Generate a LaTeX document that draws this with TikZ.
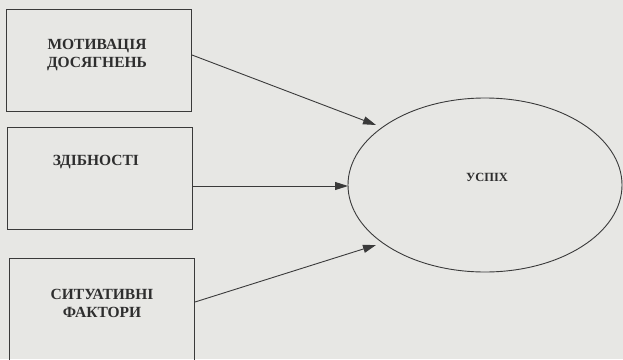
\documentclass[tikz,border=0pt]{standalone}
\usepackage{fontspec}
\setmainfont{Liberation Serif}
\usetikzlibrary{arrows.meta,shapes.geometric}
\definecolor{paper}{HTML}{E7E7E4}
\definecolor{ink}{HTML}{3A3A3A}
\tikzset{
  boxshape/.style={draw=ink,line width=1pt,minimum width=185pt,inner sep=0pt},
  boxtext/.style={font=\fontsize{15.5}{18.5}\selectfont\bfseries,text=ink!80!black,align=center,inner sep=0pt},
  goal/.style={ellipse,draw=ink,line width=0.9pt,minimum width=274pt,minimum height=174pt,inner sep=0pt},
  link/.style={draw=ink,line width=0.9pt,-{Triangle[length=13pt,width=8pt]}}
}
\begin{document}
\begin{tikzpicture}[x=1pt,y=-1pt]
\useasboundingbox (0,0) rectangle (623,359);
\clip (0,0) rectangle (623,359);
\fill[paper] (0,0) rectangle (623,359);
% boxes
\node[boxshape,minimum height=102pt] (b1) at (99,60) {};
\node[boxshape,minimum height=102pt] (b2) at (100,178) {};
\node[boxshape,minimum height=110pt] (b3) at (102,313) {};
\node[boxtext] (t1) at (97,55) {МОТИВАЦІЯ\\ДОСЯГНЕНЬ};
\node[boxtext] (t2) at (96,162) {ЗДІБНОСТІ};
\node[boxtext] (t3) at (102,303.5) {СИТУАТИВНІ\\ФАКТОРИ};
% goal
\node[goal] (g) at (485,185) {};
\node[font=\fontsize{12.5}{14}\selectfont\bfseries,text=ink!80!black,inner sep=0pt] (gt) at (487,177) {УСПІХ};
% arrow ends
\coordinate (e1) at (376,125);
\coordinate (e2) at (348,186);
\coordinate (e3) at (376,245);
\draw[link] ([yshift=5pt]b1.east) -- (e1);
\draw[link] (b2.east |- e2) -- (e2);
\draw[link] ([yshift=11pt]b3.east) -- (e3);
\end{tikzpicture}
\end{document}
